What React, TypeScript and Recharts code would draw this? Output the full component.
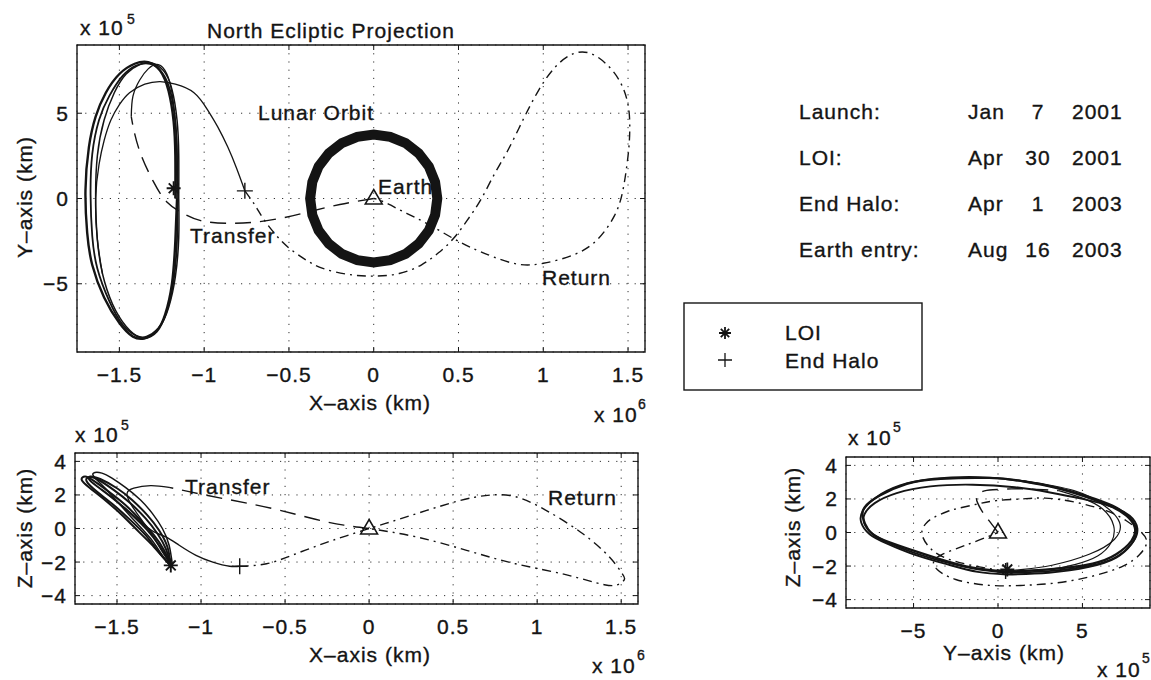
import React from "react";
import { ScatterChart, Scatter, XAxis, YAxis, CartesianGrid, ReferenceArea } from "recharts";

const INK = "#141414";
const FONT = "'Liberation Sans', Arial, Helvetica, sans-serif";
const W = 1151;
const H = 680;

// ---- North ecliptic projection (X in 1e6 km, Y in 1e5 km)
const xyTicksX = [-1.5, -1, -0.5, 0, 0.5, 1, 1.5];
const xyTicksY = [-5, 0, 5];

const xyHaloA = [
  [-1.17, 0], [-1.17, 2.5], [-1.18, 4.5], [-1.21, 6.3], [-1.26, 7.5], [-1.33, 8.0], [-1.41, 7.9],
  [-1.5, 7.3], [-1.58, 6.2], [-1.64, 4.8], [-1.68, 3.0], [-1.7, 0.5], [-1.69, -2.0], [-1.66, -3.9],
  [-1.59, -5.8], [-1.5, -7.3], [-1.42, -8.1], [-1.35, -8.2], [-1.28, -7.8], [-1.23, -6.8],
  [-1.19, -5.0], [-1.17, -2.5], [-1.16, 0],
];
const xyHaloB = [
  [-1.16, 0], [-1.16, 2.5], [-1.17, 4.5], [-1.2, 6.3], [-1.25, 7.4], [-1.32, 7.9], [-1.4, 7.8],
  [-1.48, 7.2], [-1.56, 6.0], [-1.62, 4.6], [-1.66, 2.6], [-1.67, 0.2], [-1.66, -2.2], [-1.63, -4.1],
  [-1.56, -6.0], [-1.48, -7.4], [-1.4, -8.05], [-1.34, -8.1], [-1.27, -7.6], [-1.22, -6.6],
  [-1.18, -4.8], [-1.16, -2.4], [-1.16, 0],
];
const xyHaloC = [
  [-1.15, 0], [-1.15, 2.6], [-1.16, 4.6], [-1.19, 6.4], [-1.24, 7.5], [-1.31, 7.95], [-1.38, 7.85],
  [-1.46, 7.3], [-1.53, 6.2], [-1.59, 4.6], [-1.63, 2.5], [-1.64, 0], [-1.63, -2.4], [-1.6, -4.4],
  [-1.54, -6.2], [-1.46, -7.5], [-1.38, -8.15], [-1.32, -8.1], [-1.26, -7.5], [-1.21, -6.4],
  [-1.17, -4.6], [-1.15, -2.3], [-1.15, 0],
];
const xyTransfer = [
  [0, 0], [-0.2, -0.35], [-0.39, -0.8], [-0.63, -1.3], [-0.86, -1.45], [-1.02, -1.3], [-1.12, -0.9],
  [-1.22, -0.2], [-1.3, 1.0], [-1.37, 2.5], [-1.41, 3.8], [-1.43, 4.8],
];
const xyInsertion = [
  [-1.43, 4.8], [-1.42, 6.0], [-1.38, 6.95], [-1.33, 7.6], [-1.27, 7.85], [-1.22, 7.3],
  [-1.19, 6.2], [-1.17, 4.5], [-1.16, 2.5], [-1.17, 0.6],
];
const xyDeparture = [
  [-1.6, -4.4], [-1.63, -2.4], [-1.64, 0], [-1.62, 2.0], [-1.59, 3.4], [-1.55, 4.6], [-1.5, 5.5],
  [-1.44, 6.2], [-1.35, 6.7], [-1.26, 6.85], [-1.17, 6.7], [-1.06, 6.2], [-0.98, 5.2], [-0.92, 4.2],
  [-0.86, 3.0], [-0.81, 1.8], [-0.76, 0.45],
];
const xyReturn = [
  [-0.76, 0.45], [-0.7, -0.4], [-0.65, -1.2], [-0.58, -2.1], [-0.5, -2.9], [-0.4, -3.6], [-0.3, -4.1],
  [-0.15, -4.45], [0, -4.55], [0.15, -4.4], [0.28, -3.9], [0.38, -3.2], [0.47, -2.35], [0.55, -1.3],
  [0.63, -0.1], [0.71, 1.4], [0.79, 2.8], [0.88, 4.6], [0.97, 6.3], [1.07, 7.7], [1.18, 8.5],
  [1.28, 8.5], [1.37, 7.9], [1.45, 6.9], [1.5, 5.5], [1.51, 4.0], [1.5, 2.5], [1.47, 0.5],
  [1.42, -1.0], [1.32, -2.4], [1.18, -3.3], [1.0, -3.8], [0.85, -3.85], [0.7, -3.4], [0.58, -2.9],
  [0.47, -2.35], [0.32, -1.5], [0.18, -0.8], [0.06, -0.2], [0, 0],
];
const xyLunarOrbit = [
  [0.375, 0], [0.362, 0.97], [0.325, 1.88], [0.265, 2.65], [0.188, 3.25], [0.097, 3.62], [0, 3.75],
  [-0.097, 3.62], [-0.188, 3.25], [-0.265, 2.65], [-0.325, 1.88], [-0.362, 0.97], [-0.375, 0],
  [-0.362, -0.97], [-0.325, -1.88], [-0.265, -2.65], [-0.188, -3.25], [-0.097, -3.62], [0, -3.75],
  [0.097, -3.62], [0.188, -3.25], [0.265, -2.65], [0.325, -1.88], [0.362, -0.97],
];
const xyEarth = [0, 0];
const xyLOI = [-1.18, 0.6];
const xyEndHalo = [-0.76, 0.45];

// ---- X-Z projection (X in 1e6 km, Z in 1e5 km)
const xzTicksX = [-1.5, -1, -0.5, 0, 0.5, 1, 1.5];
const xzTicksZ = [-4, -2, 0, 2, 4];

const xzLoop1 = [
  [-1.18, -2.2], [-1.22, -1.3], [-1.28, -0.4], [-1.36, 0.5], [-1.45, 1.4], [-1.55, 2.2], [-1.64, 2.85],
  [-1.69, 3.1], [-1.71, 2.9], [-1.66, 2.4], [-1.56, 1.6], [-1.46, 0.7], [-1.37, -0.2], [-1.28, -1.1],
  [-1.21, -1.9], [-1.18, -2.2],
];
const xzLoop2 = [
  [-1.18, -2.2], [-1.21, -1.2], [-1.26, -0.3], [-1.33, 0.6], [-1.42, 1.5], [-1.52, 2.3], [-1.62, 2.95],
  [-1.67, 3.05], [-1.68, 2.8], [-1.62, 2.2], [-1.52, 1.4], [-1.42, 0.5], [-1.33, -0.4], [-1.26, -1.3],
  [-1.2, -2.0], [-1.18, -2.2],
];
const xzLoop3 = [
  [-1.17, -2.2], [-1.19, -1.0], [-1.23, 0.0], [-1.29, 0.9], [-1.36, 1.7], [-1.45, 2.45], [-1.53, 3.0],
  [-1.59, 3.3], [-1.64, 3.3], [-1.63, 3.0], [-1.57, 2.4], [-1.48, 1.4], [-1.39, 0.4], [-1.3, -0.6],
  [-1.23, -1.6], [-1.18, -2.2],
];
const xzLoop4 = [
  [-1.18, -2.2], [-1.2, -1.1], [-1.25, -0.1], [-1.32, 0.8], [-1.41, 1.7], [-1.5, 2.4], [-1.6, 2.95],
  [-1.66, 3.1], [-1.66, 2.85], [-1.59, 2.3], [-1.5, 1.6], [-1.41, 0.8], [-1.32, -0.1], [-1.25, -1.0],
  [-1.2, -1.8], [-1.18, -2.2],
];
const xzTransfer = [
  [0, 0], [-0.15, 0.2], [-0.32, 0.55], [-0.58, 1.2], [-0.85, 1.75], [-1.05, 2.15], [-1.19, 2.45],
];
const xzInsertion = [
  [-1.19, 2.45], [-1.3, 2.55], [-1.4, 2.4], [-1.44, 2.1], [-1.42, 1.5], [-1.36, 0.6], [-1.29, -0.4],
  [-1.23, -1.4], [-1.19, -2.0], [-1.18, -2.2],
];
const xzDeparture = [
  [-1.55, 2.0], [-1.45, 1.2], [-1.36, 0.4], [-1.28, -0.2], [-1.21, -0.5], [-1.13, -1.0],
  [-1.03, -1.6], [-0.93, -2.0], [-0.83, -2.25], [-0.77, -2.25],
];
const xzReturn = [
  [-0.77, -2.25], [-0.61, -2.1], [-0.46, -1.6], [-0.3, -1.0], [-0.14, -0.45], [0.05, 0.15],
  [0.24, 0.75], [0.48, 1.5], [0.62, 1.85], [0.73, 2.0], [0.87, 1.9], [1.05, 1.1], [1.27, -0.3],
  [1.43, -1.7], [1.5, -2.6], [1.52, -3.0], [1.49, -3.3], [1.4, -3.35], [1.17, -2.75], [0.87, -2.1],
  [0.58, -1.3], [0.28, -0.5], [0, 0],
];
const xzEarth = [0, 0];
const xzLOI = [-1.18, -2.2];
const xzEndHalo = [-0.77, -2.25];

// ---- Y-Z projection (Y in 1e5 km, Z in 1e5 km)
const yzTicksY = [-5, 0, 5];
const yzTicksZ = [-4, -2, 0, 2, 4];

const yzLoop1 = [
  [0.5, -2.35], [3.0, -2.2], [5.6, -1.85], [7.0, -1.3], [7.9, -0.5], [8.1, 0.3], [7.6, 1.0],
  [6.6, 1.6], [5.0, 2.2], [3.5, 2.65], [1.5, 3.05], [-0.5, 3.25], [-3.4, 3.2], [-5.4, 2.9],
  [-7.0, 2.2], [-7.9, 1.5], [-8.0, 0.9], [-7.7, 0.2], [-7.0, -0.35], [-5.4, -0.95], [-3.4, -1.6],
  [-1.5, -2.1], [0.5, -2.35],
];
const yzLoop2 = [
  [0.5, -2.4], [3.0, -2.3], [5.6, -1.95], [7.1, -1.4], [8.0, -0.55], [8.25, 0.25], [7.8, 1.0],
  [6.7, 1.55], [5.0, 2.0], [3.0, 2.4], [1.0, 2.7], [-1.5, 2.85], [-4.0, 2.75], [-6.0, 2.35],
  [-7.3, 1.75], [-7.9, 1.1], [-7.9, 0.5], [-7.4, -0.1], [-6.5, -0.6], [-5.0, -1.2], [-3.0, -1.8],
  [-1.2, -2.2], [0.5, -2.4],
];
const yzLoop3 = [
  [0.5, -2.5], [3.0, -2.4], [5.4, -2.05], [7.0, -1.5], [7.9, -0.7], [8.2, 0.1], [7.8, 0.9],
  [6.8, 1.6], [5.2, 2.2], [3.4, 2.7], [1.2, 3.1], [-1.2, 3.3], [-3.8, 3.2], [-5.8, 2.8],
  [-7.2, 2.1], [-8.0, 1.3], [-8.1, 0.6], [-7.6, -0.1], [-6.6, -0.65], [-5.0, -1.3], [-3.0, -1.9],
  [-1.2, -2.35], [0.5, -2.5],
];
const yzTransfer = [
  [0, 0], [-0.45, 0.6], [-0.9, 1.2], [-1.2, 1.75], [-1.25, 2.15], [-0.9, 2.45], [-0.3, 2.55],
  [0.8, 2.6], [1.7, 2.6], [2.7, 2.55], [3.6, 2.5],
];
const yzInsertion = [
  [3.6, 2.5], [5.0, 2.05], [6.2, 1.4], [6.85, 0.4], [6.7, -0.6], [5.9, -1.4], [4.6, -1.9],
  [3.0, -2.2], [0.6, -2.3],
];
const yzDeparture = [
  [1.5, 3.1], [4.5, 2.5], [6.3, 1.6], [7.2, 0.6], [6.9, -0.4], [5.4, -1.3], [3.2, -1.95],
  [1.5, -2.2], [0.45, -2.3],
];
const yzReturn = [
  [0.45, -2.3], [-1.1, -2.05], [-2.9, -1.6], [-4.0, -0.95], [-4.5, -0.1], [-4.3, 0.5], [-3.8, 0.9],
  [-3.0, 1.25], [-2.3, 1.45], [-1.2, 1.7], [-0.1, 1.9], [1.4, 2.0], [2.8, 2.05], [4.6, 1.8],
  [6.4, 1.3], [7.6, 0.7], [8.5, 0.0], [8.8, -0.6], [8.4, -1.3], [7.4, -2.0], [5.6, -2.6],
  [3.5, -3.0], [1.5, -3.15], [-0.5, -3.15], [-2.5, -2.8], [-3.6, -2.2], [-3.8, -1.7], [-3.3, -1.3],
  [-2.3, -0.9], [-1.5, -0.6], [-0.6, -0.25], [0, 0],
];
const yzEarth = [0, 0];
const yzLOI = [0.55, -2.2];
const yzEndHalo = [0.45, -2.3];

// ---- event table
const eventNames = ["Launch:", "LOI:", "End Halo:", "Earth entry:"];
const eventMonths = ["Jan", "Apr", "Apr", "Aug"];
const eventDays = ["7", "30", "1", "16"];
const eventYears = ["2001", "2001", "2003", "2003"];
const legendItems = ["LOI", "End Halo"];

const pts = (a: number[][]) => a.map(([x, y]) => ({ x, y }));
const fmt = (v: number) => String(v).replace("-", "\u2212");

const txt = { fontFamily: FONT, fontSize: 21, fill: INK, letterSpacing: 1, stroke: INK, strokeWidth: 0.35 };

const NoDot = () => <g />;
const starPath = (x: number, y: number, r: number) =>
  `M${x - r},${y}H${x + r}M${x},${y - r}V${y + r}` +
  `M${x - r * 0.7},${y - r * 0.7}L${x + r * 0.7},${y + r * 0.7}` +
  `M${x - r * 0.7},${y + r * 0.7}L${x + r * 0.7},${y - r * 0.7}`;
const plusPath = (x: number, y: number, r: number) => `M${x - r},${y}H${x + r}M${x},${y - r}V${y + r}`;

const Tri = (p: any) => (
  <path
    d={`M${p.cx},${p.cy - 9}L${p.cx + 8.5},${p.cy + 5.5}L${p.cx - 8.5},${p.cy + 5.5}Z`}
    fill="none"
    stroke={INK}
    strokeWidth={1.5}
  />
);
const Star = (p: any) => <path d={starPath(p.cx, p.cy, 7)} stroke={INK} strokeWidth={1.9} fill="none" />;
const Plus = (p: any) => <path d={plusPath(p.cx, p.cy, 8)} stroke={INK} strokeWidth={1.4} fill="none" />;

function trace(key: string, data: number[][], width: number, dash?: string, curve: any = "natural") {
  return (
    <Scatter
      key={key}
      data={pts(data)}
      fill="none"
      shape={NoDot}
      line={{ stroke: INK, strokeWidth: width, strokeDasharray: dash, fill: "none" }}
      lineType="joint"
      lineJointType={curve}
      isAnimationActive={false}
    />
  );
}

function mark(key: string, p: number[], shape: any) {
  return <Scatter key={key} data={pts([p])} shape={shape} isAnimationActive={false} />;
}

const AX_H = 40;
const AX_W = 50;

function Panel({ box, xDomain, yDomain, xTicks, yTicks, children }: any) {
  const [l, t, r, b] = box;
  const bottomTick = (p: any) => (
    <g>
      <line x1={p.x} x2={p.x} y1={b} y2={b - 5} stroke={INK} />
      <line x1={p.x} x2={p.x} y1={t} y2={t + 5} stroke={INK} />
      <text x={p.x} y={b + 30} textAnchor="middle" {...txt}>
        {fmt(p.payload.value)}
      </text>
    </g>
  );
  const leftTick = (p: any) => (
    <g>
      <line x1={l} x2={l + 5} y1={p.y} y2={p.y} stroke={INK} />
      <line x1={r} x2={r - 5} y1={p.y} y2={p.y} stroke={INK} />
      <text x={l - 8} y={p.y + 7.5} textAnchor="end" {...txt}>
        {fmt(p.payload.value)}
      </text>
    </g>
  );
  return (
    <div style={{ position: "absolute", left: 0, top: 0 }}>
      <ScatterChart
        width={W}
        height={H}
        margin={{ left: l - AX_W, top: t, right: W - r, bottom: H - b - AX_H }}
      >
        <CartesianGrid stroke="#333" strokeDasharray="1.2 7" />
        <XAxis
          type="number"
          dataKey="x"
          domain={xDomain}
          ticks={xTicks}
          allowDataOverflow
          height={AX_H}
          tickSize={0}
          tickMargin={0}
          interval={0}
          axisLine={false}
          tickLine={false}
          tick={bottomTick}
        />
        <YAxis
          type="number"
          dataKey="y"
          domain={yDomain}
          ticks={yTicks}
          allowDataOverflow
          width={AX_W}
          tickSize={0}
          tickMargin={0}
          interval={0}
          axisLine={false}
          tickLine={false}
          tick={leftTick}
        />
        {children}
        <ReferenceArea
          x1={xDomain[0]}
          x2={xDomain[1]}
          y1={yDomain[0]}
          y2={yDomain[1]}
          fill="none"
          fillOpacity={0}
          stroke={INK}
          strokeWidth={1.4}
        />
      </ScatterChart>
    </div>
  );
}

const DASH = "16 9";
const DASHDOT = "9 5 2 5";

export default function App() {
  return (
    <div style={{ position: "absolute", left: 0, top: 0, width: W, height: H, background: "#fff", overflow: "hidden" }}>
      <Panel box={[77, 45, 645, 352]} xDomain={[-1.75, 1.6]} yDomain={[-9, 9]} xTicks={xyTicksX} yTicks={xyTicksY}>
        {trace("moon", xyLunarOrbit, 10, undefined, "linearClosed")}
        {trace("haloA", xyHaloA, 2.4)}
        {trace("haloB", xyHaloB, 1.8)}
        {trace("haloC", xyHaloC, 1.5)}
        {trace("transfer", xyTransfer, 1.4, DASH)}
        {trace("insert", xyInsertion, 1.3)}
        {trace("depart", xyDeparture, 1.3)}
        {trace("return", xyReturn, 1.4, DASHDOT)}
        {mark("earth", xyEarth, Tri)}
        {mark("loi", xyLOI, Star)}
        {mark("end", xyEndHalo, Plus)}
      </Panel>
      <Panel box={[75, 453, 638, 604]} xDomain={[-1.75, 1.6]} yDomain={[-4.5, 4.5]} xTicks={xzTicksX} yTicks={xzTicksZ}>
        {trace("l1", xzLoop1, 2)}
        {trace("l2", xzLoop2, 2)}
        {trace("l3", xzLoop3, 1.5)}
        {trace("l4", xzLoop4, 2)}
        {trace("transfer", xzTransfer, 1.4, DASH)}
        {trace("insert", xzInsertion, 1.3)}
        {trace("depart", xzDeparture, 1.4)}
        {trace("return", xzReturn, 1.4, DASHDOT)}
        {mark("earth", xzEarth, Tri)}
        {mark("loi", xzLOI, Star)}
        {mark("end", xzEndHalo, Plus)}
      </Panel>
      <Panel box={[846, 457, 1150, 608]} xDomain={[-9, 9]} yDomain={[-4.5, 4.5]} xTicks={yzTicksY} yTicks={yzTicksZ}>
        {trace("l1", yzLoop1, 2.3)}
        {trace("l2", yzLoop2, 1.9)}
        {trace("l3", yzLoop3, 1.9)}
        {trace("transfer", yzTransfer, 1.4, DASH)}
        {trace("insert", yzInsertion, 1.2)}
        {trace("depart", yzDeparture, 1.2)}
        {trace("return", yzReturn, 1.4, DASHDOT)}
        {mark("earth", yzEarth, Tri)}
        {mark("loi", yzLOI, Star)}
        {mark("end", yzEndHalo, Plus)}
      </Panel>

      <svg width={W} height={H} style={{ position: "absolute", left: 0, top: 0, pointerEvents: "none" }}>
        {/* top panel */}
        <text x={80} y={35} {...txt}>x 10</text>
        <text x={127} y={24} {...txt} fontSize={14} letterSpacing={0}>5</text>
        <text x={207} y={38} {...txt}>North Ecliptic Projection</text>
        <text x={32} y={197} textAnchor="middle" transform="rotate(-90 32 197)" {...txt}>Y–axis (km)</text>
        <text x={370} y={410} textAnchor="middle" {...txt}>X–axis (km)</text>
        <text x={594} y={422} {...txt}>x 10</text>
        <text x={638} y={409} {...txt} fontSize={14} letterSpacing={0}>6</text>
        <text x={258} y={120} {...txt}>Lunar Orbit</text>
        <text x={378} y={194} {...txt}>Earth</text>
        <text x={190} y={243} {...txt}>Transfer</text>
        <text x={542} y={285} {...txt}>Return</text>

        {/* X-Z panel */}
        <text x={75} y={442} {...txt}>x 10</text>
        <text x={121} y={430} {...txt} fontSize={14} letterSpacing={0}>5</text>
        <text x={32} y={528} textAnchor="middle" transform="rotate(-90 32 528)" {...txt}>Z–axis (km)</text>
        <text x={370} y={662} textAnchor="middle" {...txt}>X–axis (km)</text>
        <text x={592} y={673} {...txt}>x 10</text>
        <text x={637} y={660} {...txt} fontSize={14} letterSpacing={0}>6</text>
        <text x={185} y={494} {...txt}>Transfer</text>
        <text x={548} y={505} {...txt}>Return</text>

        {/* Y-Z panel */}
        <text x={848} y={445} {...txt}>x 10</text>
        <text x={893} y={432} {...txt} fontSize={14} letterSpacing={0}>5</text>
        <text x={800} y={527} textAnchor="middle" transform="rotate(-90 800 527)" {...txt}>Z–axis (km)</text>
        <text x={1004} y={660} textAnchor="middle" {...txt}>Y–axis (km)</text>
        <text x={1097} y={677} {...txt}>x 10</text>
        <text x={1142} y={663} {...txt} fontSize={14} letterSpacing={0}>5</text>

        {/* event dates */}
        {eventNames.map((n, i) => (
          <g key={n}>
            <text x={799} y={119 + i * 46} {...txt}>{n}</text>
            <text x={968} y={119 + i * 46} {...txt}>{eventMonths[i]}</text>
            <text x={1038} y={119 + i * 46} textAnchor="middle" {...txt}>{eventDays[i]}</text>
            <text x={1072} y={119 + i * 46} {...txt}>{eventYears[i]}</text>
          </g>
        ))}

        {/* legend */}
        <rect x={684} y={303} width={238} height={87} fill="#fff" stroke={INK} strokeWidth={1.4} />
        <path d={starPath(725, 333, 6)} stroke={INK} strokeWidth={1.8} fill="none" />
        <path d={plusPath(725, 360, 7)} stroke={INK} strokeWidth={1.3} fill="none" />
        <text x={785} y={340} {...txt}>{legendItems[0]}</text>
        <text x={785} y={368} {...txt}>{legendItems[1]}</text>
      </svg>
    </div>
  );
}
